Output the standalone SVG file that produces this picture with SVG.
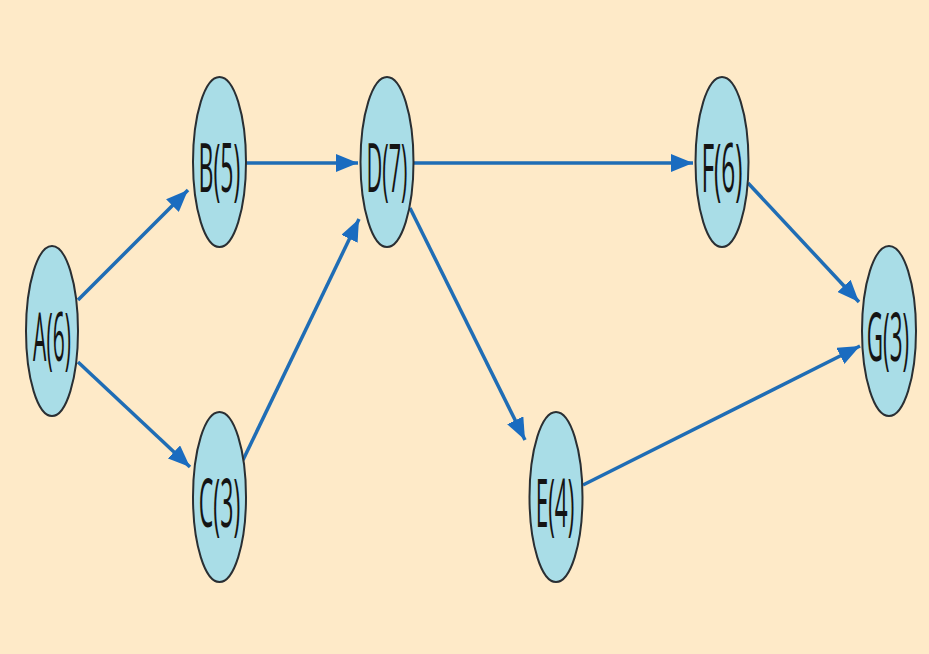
<svg xmlns="http://www.w3.org/2000/svg" width="929" height="654" viewBox="0 0 929 654">
<style>
.node ellipse{fill:#a9dde7;stroke:#2a2f33;stroke-width:2}
.node text{font-family:"Open Sans","Noto Sans",sans-serif;font-size:68px;fill:#141414;text-anchor:middle}
.edge{stroke:#1f6db5;stroke-width:3.5;fill:none;marker-end:url(#arr)}
</style>
<defs>
<marker id="arr" markerUnits="userSpaceOnUse" markerWidth="24" markerHeight="18" refX="22" refY="9" orient="auto">
<path d="M0,0 L22,9 L0,18 z" fill="#1a6cc0"/>
</marker>
</defs>
<rect width="929" height="654" fill="#feeac8"/>
<g id="connectors">
<line class="edge" x1="78" y1="300" x2="188" y2="190"/>
<line class="edge" x1="78" y1="362" x2="190" y2="467"/>
<line class="edge" x1="246" y1="163" x2="358" y2="163"/>
<line class="edge" x1="243" y1="460" x2="359" y2="219"/>
<line class="edge" x1="413" y1="163" x2="693" y2="163"/>
<line class="edge" x1="410" y1="208" x2="525" y2="440"/>
<line class="edge" x1="748" y1="183" x2="859" y2="302"/>
<line class="edge" x1="583" y1="485" x2="860" y2="346"/>
</g>
<g id="node-A" class="node"><ellipse cx="52" cy="331" rx="26" ry="85"/><text transform="matrix(0.31,0,0,1,52,361)">A(6)</text></g>
<g id="node-B" class="node"><ellipse cx="219.5" cy="162" rx="26.5" ry="85"/><text transform="matrix(0.34,0,0,1,219.5,192)">B(5)</text></g>
<g id="node-C" class="node"><ellipse cx="219.5" cy="497" rx="26.5" ry="85"/><text transform="matrix(0.34,0,0,1,219.5,527)">C(3)</text></g>
<g id="node-D" class="node"><ellipse cx="387" cy="162" rx="26.5" ry="85"/><text transform="matrix(0.32,0,0,1,387,192)">D(7)</text></g>
<g id="node-E" class="node"><ellipse cx="556" cy="497" rx="26.5" ry="85"/><text transform="matrix(0.33,0,0,1,555,527)">E(4)</text></g>
<g id="node-F" class="node"><ellipse cx="722" cy="162" rx="26.5" ry="85"/><text transform="matrix(0.36,0,0,1,722,192)">F(6)</text></g>
<g id="node-G" class="node"><ellipse cx="889" cy="331" rx="27" ry="85"/><text transform="matrix(0.33,0,0,1,888,361)">G(3)</text></g>
</svg>
